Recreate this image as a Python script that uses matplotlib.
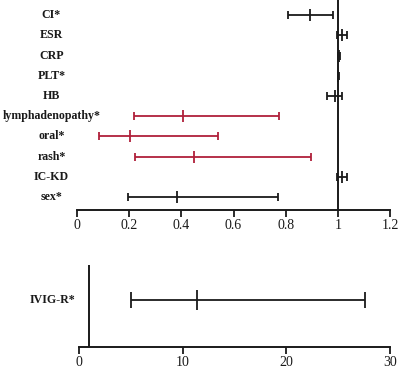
import matplotlib
matplotlib.use("Agg")
import matplotlib.pyplot as plt
import matplotlib.transforms as mtransforms

plt.rcParams['font.family'] = ['Liberation Serif', 'DejaVu Serif']

labels = ["CI*", "ESR", "CRP", "PLT*", "HB", "lymphadenopathy*", "oral*", "rash*", "IC-KD", "sex*"]
or_mean = [0.893, 1.015, 1.004, 1.002, 0.990, 0.407, 0.205, 0.447, 1.015, 0.383]
or_low = [0.808, 0.998, 1.000, 1.000, 0.960, 0.217, 0.083, 0.224, 0.998, 0.194]
or_high = [0.983, 1.035, 1.008, 1.004, 1.017, 0.776, 0.540, 0.896, 1.035, 0.770]
colors = ["#1a1a1a", "#1a1a1a", "#1a1a1a", "#1a1a1a", "#1a1a1a",
          "#B0203A", "#B0203A", "#B0203A", "#1a1a1a", "#1a1a1a"]
top_ticks = [0, 0.2, 0.4, 0.6, 0.8, 1, 1.2]
top_ticklabels = ["0", "0.2", "0.4", "0.6", "0.8", "1", "1.2"]

bottom_label = "IVIG-R*"
bottom_mean = 11.4
bottom_low = 5.0
bottom_high = 27.6
bottom_ticks = [0, 10, 20, 30]

fig = plt.figure(figsize=(4.0, 3.68), dpi=100)

# top panel
ax1 = fig.add_axes([77/400, 1 - 210/368, 313/400, 210/368])
n = len(labels)
for i, lab in enumerate(labels):
    y = n - 1 - i
    ax1.errorbar([or_mean[i]], [y],
                 xerr=[[or_mean[i] - or_low[i]], [or_high[i] - or_mean[i]]],
                 fmt='|', color=colors[i], ecolor=colors[i], markersize=9,
                 markeredgewidth=1.3, elinewidth=1.3, capsize=2.6, capthick=1.3)
    ax1.text(51.5/400, y, lab, transform=mtransforms.blended_transform_factory(fig.transFigure, ax1.transData),
             ha='center', va='center', fontsize=8.6, fontweight='bold', color='#1a1a1a')
ax1.axvline(1.0, color='#1a1a1a', lw=1.4)
ax1.set_xlim(0, 1.2)
ax1.set_ylim(-0.64, 9.75)
ax1.set_xticks(top_ticks)
ax1.set_xticklabels(top_ticklabels)
ax1.set_yticks([])
for s in ['top', 'right', 'left']:
    ax1.spines[s].set_visible(False)
ax1.spines['bottom'].set_linewidth(1.4)
ax1.spines['bottom'].set_color('#1a1a1a')
ax1.tick_params(axis='x', length=5, width=1.3, labelsize=10, colors='#1a1a1a', pad=1.5)

# bottom panel
ax2 = fig.add_axes([79/400, 1 - 347/368, 311/400, 82/368])
ax2.errorbar([bottom_mean], [0],
             xerr=[[bottom_mean - bottom_low], [bottom_high - bottom_mean]],
             fmt='|', color='#1a1a1a', ecolor='#1a1a1a', markersize=14,
             markeredgewidth=1.3, elinewidth=1.3, capsize=6, capthick=1.3)
ax2.text(52/400, 0, bottom_label, transform=mtransforms.blended_transform_factory(fig.transFigure, ax2.transData),
         ha='center', va='center', fontsize=8.6, fontweight='bold', color='#1a1a1a')
ax2.axvline(1.0, color='#1a1a1a', lw=1.4)
ax2.set_xlim(0, 30)
ax2.set_ylim(-0.573, 0.427)
ax2.set_xticks(bottom_ticks)
ax2.set_yticks([])
for s in ['top', 'right', 'left']:
    ax2.spines[s].set_visible(False)
ax2.spines['bottom'].set_linewidth(1.4)
ax2.spines['bottom'].set_color('#1a1a1a')
ax2.tick_params(axis='x', length=5, width=1.3, labelsize=10, colors='#1a1a1a', pad=1.5)

fig.savefig("out.png", dpi=100)
